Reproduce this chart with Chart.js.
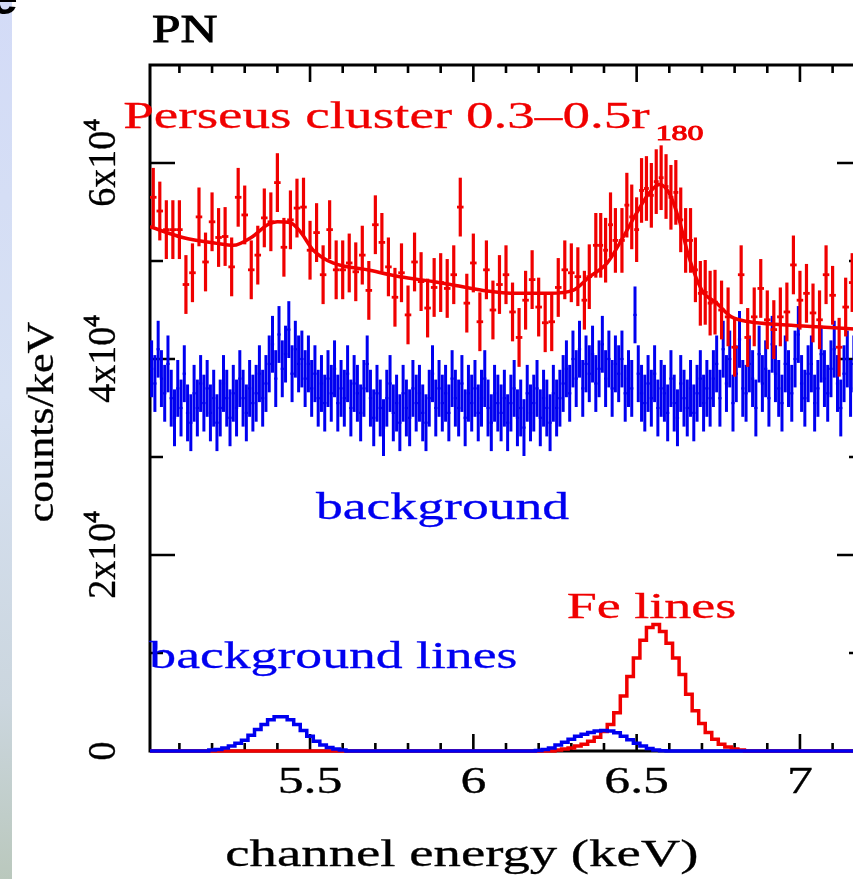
<!DOCTYPE html>
<html>
<head>
<meta charset="utf-8">
<title>PN spectrum</title>
<script src="https://cdn.jsdelivr.net/npm/chart.js@4.4.1/dist/chart.umd.min.js"></script>
<style>
  html, body { margin: 0; padding: 0; background: #fff; width: 853px; height: 879px; overflow: hidden; }
  #wrap { position: relative; width: 853px; height: 879px; overflow: hidden; }
  #spectrum { position: absolute; left: 0; top: 0; }
  #strip {
    position: absolute; left: 0; top: 0; width: 12px; height: 879px;
    background: linear-gradient(to bottom, #d3dbf7 0%, #d7e1f3 45%, #cbd6de 80%, #bac8bd 100%);
  }
  #corner {
    position: absolute; left: -9px; top: -26px;
    font: bold 48px 'Liberation Sans', Arial, sans-serif; line-height: 48px; color: #000;
  }
</style>
</head>
<body>
<div id="wrap">
  <canvas id="spectrum" width="870" height="879"></canvas>
  <div id="strip"></div>
  <div id="corner">e</div>
</div>
<script>
// Perseus cluster 0.3-0.5 r180, PN source spectrum (counts/keV)
const clusterEnergy = [
  5.02, 5.04, 5.06, 5.08, 5.10, 5.12, 5.14, 5.16, 5.18, 5.20, 5.22, 5.24, 5.26, 5.28, 5.30, 5.32,
  5.34, 5.36, 5.38, 5.40, 5.42, 5.44, 5.46, 5.48, 5.50, 5.52, 5.54, 5.56, 5.58, 5.60, 5.62, 5.64,
  5.66, 5.68, 5.70, 5.72, 5.74, 5.76, 5.78, 5.80, 5.82, 5.84, 5.86, 5.88, 5.90, 5.92,
  5.94, 5.96, 5.98, 6.00, 6.02, 6.04, 6.06, 6.08, 6.10, 6.12, 6.14, 6.16, 6.18, 6.20, 6.22, 6.24,
  6.26, 6.28, 6.30, 6.32, 6.34, 6.355, 6.375, 6.39, 6.405, 6.42, 6.435, 6.455, 6.47, 6.485, 6.50,
  6.515, 6.53, 6.545, 6.56, 6.575, 6.59, 6.605, 6.62, 6.635, 6.65, 6.665, 6.68, 6.695, 6.71, 6.725,
  6.74, 6.76, 6.78, 6.80, 6.82, 6.84, 6.86, 6.88, 6.90, 6.92, 6.94, 6.96, 6.98, 7.00, 7.02, 7.04,
  7.06, 7.08, 7.10, 7.12, 7.14, 7.16, 7.18
];
const clusterCounts = [
  56500, 55100, 53200, 53200, 53200, 47600, 48800, 54500, 49900, 54000, 52400, 52500, 49400, 56500, 54700, 49100,
  50600, 54400, 54000, 58000, 51400, 54200, 55400, 55500, 51100, 52900, 48600, 53200, 49100, 49100, 49800, 48900,
  50600, 47000, 53700, 51900, 49400, 46300, 48800, 44500, 49900, 47900, 45200, 47300, 47800, 47200,
  48600, 55500, 45700, 49800, 43800, 49100, 45000, 47600, 48600, 44800, 42200, 46000, 48100, 45300, 43700, 43800,
  47300, 49100, 48800, 48400, 46000, 48400, 51600, 51600, 51100, 53700, 52100, 52100, 55700, 54500, 53200,
  57200, 57400, 56700, 58100, 58500, 57600, 56500, 57000, 54200, 52100, 52100, 49100, 46700, 46800, 45700,
  45800, 45000, 44300, 41200, 48600, 42200, 44300, 47200, 44000, 43000, 44300, 44800, 49600, 46000, 46700, 44700,
  44000, 48600, 46500, 41200, 45300, 47800, 45000
];
const clusterError = [
  3000, 3000, 3000, 3000, 3000, 3000, 3000, 3000, 3000, 3000, 3000, 3000, 3000, 3000, 3000, 3000,
  3000, 3000, 3000, 3000, 3000, 3000, 3000, 3000, 3000, 3000, 3000, 3000, 3000, 3000, 3000, 3000,
  3000, 3000, 3000, 3000, 3000, 3000, 3000, 3000, 3000, 3000, 3000, 3000, 3000, 3000,
  3000, 3000, 3000, 3000, 3000, 3000, 3000, 3000, 3000, 3000, 3000, 3000, 3000, 3000, 3000, 3000,
  3000, 3000, 3000, 3000, 3000, 3300, 3300, 3300, 3300, 3300, 3300, 3300, 3300, 3300, 3300,
  3300, 3300, 3300, 3300, 3300, 3300, 3300, 3300, 3300, 3300, 3300, 3300, 3300, 3300, 3300,
  3300, 3000, 3000, 3000, 3000, 3000, 3000, 3000, 3000, 3000, 3000, 3000, 3000, 3000, 3000, 3000,
  3000, 3000, 3000, 3000, 3000, 3000, 3000
];

// best-fit model through the cluster spectrum
const modelEnergy = [
  5.01, 5.11, 5.215, 5.265, 5.32, 5.37, 5.40, 5.44, 5.47, 5.51, 5.57, 5.675, 5.775, 5.876, 5.93,
  6.03, 6.133, 6.234, 6.305, 6.356, 6.41, 6.458, 6.50, 6.54, 6.57, 6.60, 6.63, 6.66, 6.70, 6.745,
  6.79, 6.845, 6.947, 7.05, 7.19
];
const modelCounts = [
  53500, 52400, 51800, 51600, 52400, 53700, 54000, 53900, 53000, 51100, 49800, 49100, 48400, 47900, 47600,
  47000, 46700, 46700, 47000, 48400, 49800, 52400, 54900, 57000, 57800, 56900, 54200, 50400, 47000, 45700,
  44300, 43800, 43500, 43300, 43000
];

// instrumental background, 10 eV channels starting at 5.015 keV
const bgStart = 5.015;
const bgWidth = 0.01;
const bgCounts = [
  39000, 37500, 41000, 38000, 36500, 39500,
  36000, 34000, 37000, 35000, 38500, 34500, 33500, 36500, 35000, 37500,
  35500, 37000, 34500, 36000, 33500, 35000, 37500, 36000, 34000, 36500,
  35000, 38000, 36000, 34500, 37000, 35500, 36500, 38500, 36000, 37500,
  39500, 41500, 38000, 42500, 39000, 40500, 43000, 38500, 41000, 39500, 40000, 38000, 39500,
  37000, 38500, 36000, 37500, 35500, 38000, 36500, 39000, 35500, 37000,
  36000, 38500, 35000, 37500, 36500, 34500, 37000, 39500, 36000,
  34000, 36500, 35000, 33000, 36000, 37500, 34500, 35500, 33500, 36500,
  35000, 34000, 37000, 35500, 36500, 34500, 33500, 36000, 38500, 35000,
  37000, 35500, 36500, 34500, 38000, 36000, 35000, 37500, 34000, 36500,
  35500, 37000, 34500, 36000, 38000, 35000, 33500, 36500, 35500,
  34500, 36000, 33500, 35500, 37000, 34000, 35000, 33000, 36500, 34500,
  35500, 37000, 34000, 36000, 35000, 33500, 36500, 35000, 36000,
  37500, 39000, 36500, 40000, 38000, 41000, 37000, 39500, 38500, 40500,
  37500, 39000, 41500, 38000, 40000, 37000, 39500, 38500, 40000, 36500, 38000,
  37000, 44500, 38500, 36500,
  35500, 37500, 36000, 38500, 35000, 37000, 36500, 34500, 38000, 35500,
  34000, 37500, 36000, 35000, 37000, 34500, 36500, 38000, 35500, 37000, 36000,
  38000, 39500, 36000, 41000, 37500, 40000, 35500, 38500, 42000, 37000,
  36500, 39500, 38000, 35000, 40500, 37500, 39000, 36000, 41500, 38500,
  37000, 35500, 39500, 38000, 36500, 40000, 42500, 37500, 36000, 38500,
  39500, 35500, 37000, 40500, 38000, 36500, 39000, 41000, 37500, 35000,
  38500, 40000, 37000, 39500, 36500, 38000
];
const bgError = 2900;

// model line components
const feEnergy = [
  5.01, 6.24, 6.26, 6.28, 6.30, 6.32, 6.34, 6.36, 6.38, 6.40, 6.42, 6.44, 6.46, 6.48, 6.50, 6.52,
  6.54, 6.56, 6.58, 6.60, 6.62, 6.64, 6.66, 6.68, 6.70, 6.72, 6.74, 6.76, 6.78, 6.80, 6.82, 6.84, 7.19
];
const feCounts = [
  0, 0, 100, 200, 300, 500, 700, 1000, 1400, 2000, 2700, 3900, 5600, 7600, 9500, 11300,
  12600, 12900, 12200, 11000, 9500, 7800, 5800, 4100, 2800, 1900, 1200, 700, 400, 200, 100, 0, 0
];
const bgLineEnergy = [
  5.01, 5.18, 5.20, 5.22, 5.24, 5.26, 5.28, 5.30, 5.32, 5.34, 5.36, 5.38, 5.40, 5.42, 5.44, 5.46,
  5.48, 5.50, 5.52, 5.54, 5.56, 5.58, 5.60, 5.62,
  6.18, 6.20, 6.22, 6.24, 6.26, 6.28, 6.30, 6.32, 6.34, 6.36, 6.38, 6.40, 6.42, 6.44, 6.46, 6.48,
  6.50, 6.52, 6.54, 6.56, 6.58, 6.60, 7.19
];
const bgLineCounts = [
  0, 0, 100, 150, 300, 500, 800, 1100, 1600, 2200, 2700, 3200, 3500, 3500, 3200, 2700,
  2100, 1500, 1000, 600, 350, 200, 100, 0,
  0, 50, 150, 300, 600, 900, 1200, 1500, 1700, 1900, 2050, 2100, 2050, 1850, 1500, 1150,
  800, 500, 250, 100, 30, 0, 0
];

const RED = '#f00000';
const BLUE = '#0000f0';
const SERIF = "'Liberation Serif', 'Times New Roman', serif";

const pairs = (xs, ys) => xs.map((x, i) => ({ x, y: ys[i] }));

const clusterPoints = pairs(clusterEnergy, clusterCounts);
const clusterHalf = clusterEnergy.map((e, i) => {
  const prev = clusterEnergy[i - 1] ?? e - 0.02;
  const next = clusterEnergy[i + 1] ?? e + 0.02;
  return (next - prev) / 4;
});
const bgPoints = bgCounts.map((y, i) => ({ x: bgStart + i * bgWidth, y }));

function drawText(ctx, text, x, y, o) {
  ctx.save();
  ctx.translate(x, y);
  if (o.rotate) ctx.rotate(o.rotate);
  ctx.scale(o.stretch || 1, 1);
  ctx.font = o.font;
  ctx.fillStyle = o.color || '#000';
  ctx.strokeStyle = o.color || '#000';
  ctx.lineWidth = o.weight ?? 0.3;
  ctx.textAlign = o.align || 'left';
  ctx.textBaseline = 'alphabetic';
  ctx.fillText(text, 0, 0);
  if (ctx.lineWidth > 0) ctx.strokeText(text, 0, 0);
  ctx.restore();
}

function textWidth(ctx, text, font, stretch) {
  ctx.save();
  ctx.font = font;
  const w = ctx.measureText(text).width * stretch;
  ctx.restore();
  return w;
}

// error bars (vertical) and channel widths (horizontal) for the binned spectra
const errorBars = {
  id: 'errorBars',
  afterDatasetDraw(chart, args) {
    const ds = chart.data.datasets[args.index];
    if (!ds.errors) return;
    const { ctx, scales: { x, y } } = chart;
    ctx.save();
    ctx.strokeStyle = ds.barColor;
    ctx.lineCap = 'butt';
    ds.data.forEach((p, i) => {
      const err = Array.isArray(ds.errors) ? ds.errors[i] : ds.errors;
      const half = Array.isArray(ds.halfWidth) ? ds.halfWidth[i] : ds.halfWidth;
      const cx = x.getPixelForValue(p.x);
      const cy = y.getPixelForValue(p.y);
      ctx.lineWidth = ds.errWidth;
      ctx.beginPath();
      ctx.moveTo(cx, y.getPixelForValue(p.y + err));
      ctx.lineTo(cx, y.getPixelForValue(p.y - err));
      ctx.stroke();
      ctx.lineWidth = ds.binWidth;
      ctx.beginPath();
      ctx.moveTo(x.getPixelForValue(p.x - half), cy);
      ctx.lineTo(x.getPixelForValue(p.x + half), cy);
      ctx.stroke();
    });
    ctx.restore();
  }
};

const isMajorX = v => Math.abs(v * 2 - Math.round(v * 2)) < 1e-6;
const isMajorY = v => Math.abs(v / 20000 - Math.round(v / 20000)) < 1e-6;

// box with inward ticks on all four sides
const frame = {
  id: 'frame',
  beforeDatasetsDraw(chart) {
    const { ctx, chartArea: { left, right, top, bottom }, scales: { x, y } } = chart;
    ctx.save();
    ctx.strokeStyle = '#000';
    ctx.lineWidth = 3;
    ctx.strokeRect(left, top, right - left, bottom - top);
    ctx.lineWidth = 2.6;
    ctx.beginPath();
    for (const t of x.ticks) {
      const px = x.getPixelForValue(t.value);
      const len = isMajorX(t.value) ? 17 : 8;
      ctx.moveTo(px, bottom); ctx.lineTo(px, bottom - len);
      ctx.moveTo(px, top); ctx.lineTo(px, top + len);
    }
    for (const t of y.ticks) {
      if (t.value <= 0 || t.value >= y.max) continue;
      const py = y.getPixelForValue(t.value);
      const len = isMajorY(t.value) ? 25 : 13;
      ctx.moveTo(left, py); ctx.lineTo(left + len, py);
      ctx.moveTo(right, py); ctx.lineTo(right - len, py);
    }
    ctx.stroke();
    ctx.restore();
  },
  afterDraw(chart) {
    const { ctx, chartArea: { left, top, bottom }, scales: { x, y } } = chart;

    drawText(ctx, 'PN', left + 2, top - 23, { font: `40px ${SERIF}`, stretch: 1.28, weight: 0.9 });

    // energy tick labels
    for (const t of x.ticks) {
      if (!isMajorX(t.value)) continue;
      const txt = String(Math.round(t.value * 10) / 10);
      drawText(ctx, txt, x.getPixelForValue(t.value), bottom + 42,
        { font: `37px ${SERIF}`, stretch: 1.4, align: 'center' });
    }
    drawText(ctx, 'channel energy (keV)', x.getPixelForValue(5.965), bottom + 115,
      { font: `37.5px ${SERIF}`, stretch: 1.46, align: 'center' });

    // count tick labels, written upwards as  N x 10^4
    const mainFont = `40px ${SERIF}`;
    const supFont = `24px ${SERIF}`;
    for (const t of y.ticks) {
      if (!isMajorY(t.value) || t.value >= y.max) continue;
      const py = y.getPixelForValue(t.value);
      const main = t.value === 0 ? '0' : `${t.value / 10000}x10`;
      const sup = t.value === 0 ? '' : '4';
      const w1 = textWidth(ctx, main, mainFont, 0.95);
      const w2 = sup ? textWidth(ctx, sup, supFont, 0.95) : 0;
      ctx.save();
      ctx.translate(left - 35, py);
      ctx.rotate(-Math.PI / 2);
      const start = -(w1 + w2) / 2;
      drawText(ctx, main, start, 0, { font: mainFont, stretch: 0.95 });
      if (sup) drawText(ctx, sup, start + w1, -16, { font: supFont, stretch: 0.95, weight: 0 });
      ctx.restore();
    }
    drawText(ctx, 'counts/keV', left - 97, (top + bottom) / 2 + 14,
      { font: `38px ${SERIF}`, stretch: 1.16, align: 'center', rotate: -Math.PI / 2 });

    // curve annotations
    const mainAnno = `38px ${SERIF}`;
    const px0 = x.getPixelForValue(4.928);
    const py0 = y.getPixelForValue(63600);
    const base = 'Perseus cluster 0.3\u20130.5r';
    drawText(ctx, base, px0, py0, { font: mainAnno, stretch: 1.45, color: RED });
    const wb = textWidth(ctx, base, mainAnno, 1.45);
    drawText(ctx, '180', px0 + wb + 6, py0 + 12, { font: `22px ${SERIF}`, stretch: 1.45, color: RED, weight: 0 });

    drawText(ctx, 'background', x.getPixelForValue(5.518), y.getPixelForValue(23700),
      { font: `37px ${SERIF}`, stretch: 1.45, color: BLUE });
    drawText(ctx, 'background lines', x.getPixelForValue(5.008), y.getPixelForValue(8470),
      { font: `37px ${SERIF}`, stretch: 1.45, color: BLUE });
    drawText(ctx, 'Fe lines', x.getPixelForValue(6.286), y.getPixelForValue(13570),
      { font: `36px ${SERIF}`, stretch: 1.5, color: RED });
  }
};

new Chart(document.getElementById('spectrum').getContext('2d'), {
  type: 'scatter',
  data: {
    datasets: [
      {
        label: 'background lines', type: 'line', order: 0,
        data: pairs(bgLineEnergy, bgLineCounts), stepped: 'middle',
        borderColor: BLUE, borderWidth: 3.5, pointRadius: 0, fill: false, clip: 3
      },
      {
        label: 'Fe lines', type: 'line', order: 1,
        data: pairs(feEnergy, feCounts), stepped: 'middle',
        borderColor: RED, borderWidth: 3.5, pointRadius: 0, fill: false, clip: 3
      },
      {
        label: 'model', type: 'line', order: 2,
        data: pairs(modelEnergy, modelCounts), cubicInterpolationMode: 'monotone',
        borderColor: RED, borderWidth: 3.5, pointRadius: 0, fill: false
      },
      {
        label: 'Perseus cluster', order: 3, data: clusterPoints, showLine: false, pointRadius: 0,
        errors: clusterError, halfWidth: clusterHalf, barColor: RED, errWidth: 3.2, binWidth: 2.8
      },
      {
        label: 'background', order: 4, data: bgPoints, showLine: false, pointRadius: 0,
        errors: bgError, halfWidth: bgWidth / 2, barColor: BLUE, errWidth: 3.0, binWidth: 2.2
      }
    ]
  },
  options: {
    responsive: false,
    animation: false,
    events: [],
    layout: { padding: { top: 65, right: 8, left: 0, bottom: 0 } },
    plugins: { legend: { display: false }, tooltip: { enabled: false } },
    scales: {
      x: {
        type: 'linear', min: 5.01, max: 7.19,
        grid: { display: false }, border: { display: false },
        ticks: { display: false, stepSize: 0.1, includeBounds: false },
        afterFit: s => { s.height = 128; }
      },
      y: {
        type: 'linear', min: 0, max: 70000,
        grid: { display: false }, border: { display: false },
        ticks: { display: false, stepSize: 10000 },
        afterFit: s => { s.width = 150; }
      }
    }
  },
  plugins: [frame, errorBars]
});
</script>
</body>
</html>
